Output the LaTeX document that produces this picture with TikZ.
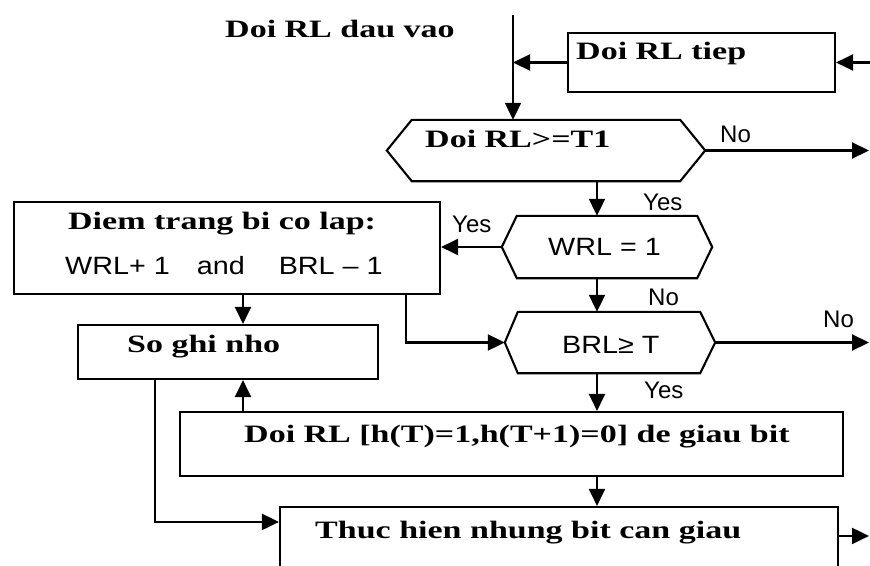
\documentclass[tikz,border=0pt]{standalone}
\usepackage{fontspec}
\newfontfamily\serfont[FakeStretch=1.36]{Liberation Serif}
\newfontfamily\labfont{Liberation Sans}
\newfontfamily\hexfont[FakeStretch=1.15]{Liberation Sans}
\usetikzlibrary{arrows.meta,fit,calc}
\tikzset{
  ln/.style={line width=2.1pt},
  arr/.style={line width=2.1pt, -{Triangle[length=17pt,width=16pt]}},
  boxnode/.style={draw, line width=2.1pt, inner sep=0pt},
  frame/.style={inner sep=0pt},
  stxt/.style={font={\serfont\bfseries\fontsize{25}{29}\selectfont}, inner sep=0pt, anchor=base west},
  htxt/.style={font={\hexfont\fontsize{25}{30}\selectfont}, inner sep=0pt, anchor=base west},
  ltxt/.style={font={\labfont\fontsize{24}{28}\selectfont}, inner sep=0pt, anchor=base west},
}
\begin{document}
\begin{tikzpicture}[x=1pt,y=-1pt]
\useasboundingbox (0,0) rectangle (870,565);
\clip (0,0) rectangle (870,565);
\fill[white] (0,0) rectangle (870,565);

% boxes
\node[boxnode, fit={(568,33) (835,92)}] (tiep) {};
\node[boxnode, fit={(14,202) (440,294)}] (diem) {};
\node[boxnode, fit={(78,325) (378,379)}] (sgn) {};
\node[boxnode, fit={(180,412) (843,476)}] (drl) {};
\node[boxnode, fit={(280,507) (838,600)}] (thuc) {};

% hexagons
\node[frame, fit={(387,120) (705,181)}] (h1) {};
\node[frame, fit={(502,216) (712,278)}] (h2) {};
\node[frame, fit={(505,312) (715,373)}] (h3) {};
\draw[ln] ($(h1.north west)+(25,0)$) -- ($(h1.north east)+(-25,0)$) -- (h1.east)
  -- ($(h1.south east)+(-25,0)$) -- ($(h1.south west)+(25,0)$) -- (h1.west) -- cycle;
\draw[ln] ($(h2.north west)+(15,0)$) -- ($(h2.north east)+(-15,0)$) -- (h2.east)
  -- ($(h2.south east)+(-15,0)$) -- ($(h2.south west)+(15,0)$) -- (h2.west) -- cycle;
\draw[ln] ($(h3.north west)+(13,0)$) -- ($(h3.north east)+(-15,0)$) -- (h3.east)
  -- ($(h3.south east)+(-15,0)$) -- ($(h3.south west)+(13,0)$) -- (h3.west) -- cycle;

% texts
\node[stxt] (t0) at (225,37) {Doi RL dau vao};
\node[stxt] (t1) at (576,59) {Doi RL tiep};
\node[stxt] (t2) at (425,147) {Doi RL>=T1};
\node[stxt] (t3) at (68,229) {Diem trang bi co lap:};
\node[htxt] (t4) at (65,274) {WRL+ 1\hspace{27pt}and\hspace{34pt}BRL – 1};
\node[stxt] (t5) at (127,352) {So ghi nho};
\node[stxt] (t6) at (244,442) {Doi RL [h(T)=1,h(T+1)=0] de giau bit};
\node[stxt] (t7) at (315,538) {Thuc hien nhung bit can giau};
\node[htxt] (t8) at (548,255) {WRL = 1};
\node[htxt] (t9) at (562,353) {BRL≥ T};

% labels
\node[ltxt] (l1) at (720,142) {No};
\node[ltxt] (l2) at (643,210) {Yes};
\node[ltxt] (l3) at (452,232) {Yes};
\node[ltxt] (l4) at (648,305) {No};
\node[ltxt] (l5) at (823,327) {No};
\node[ltxt] (l6) at (644,398) {Yes};

% helper coordinates
\coordinate (in) at (513,15);
\coordinate (cx) at (597,0);
\coordinate (xa) at (406,0);
\coordinate (xb) at (243,0);
\coordinate (xc) at (155,0);
\coordinate (r0) at (870,0);
\coordinate (r1) at (869,0);

% connectors
\draw[arr] (in) -- (in |- h1.north);
\draw[arr] (tiep.west) -- (in |- tiep.west);
\draw[arr] (r0 |- tiep.east) -- (tiep.east);
\draw[arr] (h1.east) -- (r1 |- h1.east);
\draw[arr] (cx |- h1.south) -- (cx |- h2.north);
\draw[arr] (h2.west) -- (h2.west -| diem.east);
\draw[arr] (cx |- h2.south) -- (cx |- h3.north);
\draw[arr] (h3.east) -- (r1 |- h3.east);
\draw[arr] (xa |- diem.south) |- (h3.west);
\draw[arr] (xb |- diem.south) -- (xb |- sgn.north);
\draw[arr] (cx |- h3.south) -- (cx |- drl.north);
\draw[arr] (xb |- drl.north) -- (xb |- sgn.south);
\draw[arr] (cx |- drl.south) -- (cx |- thuc.north);
\draw[arr] (xc |- sgn.south) |- ($(thuc.north west)+(0,16)$);
\draw[arr] ($(thuc.north east)+(0,30)$) -- ($(thuc.north east -| r1)+(0,30)$);
\end{tikzpicture}
\end{document}
